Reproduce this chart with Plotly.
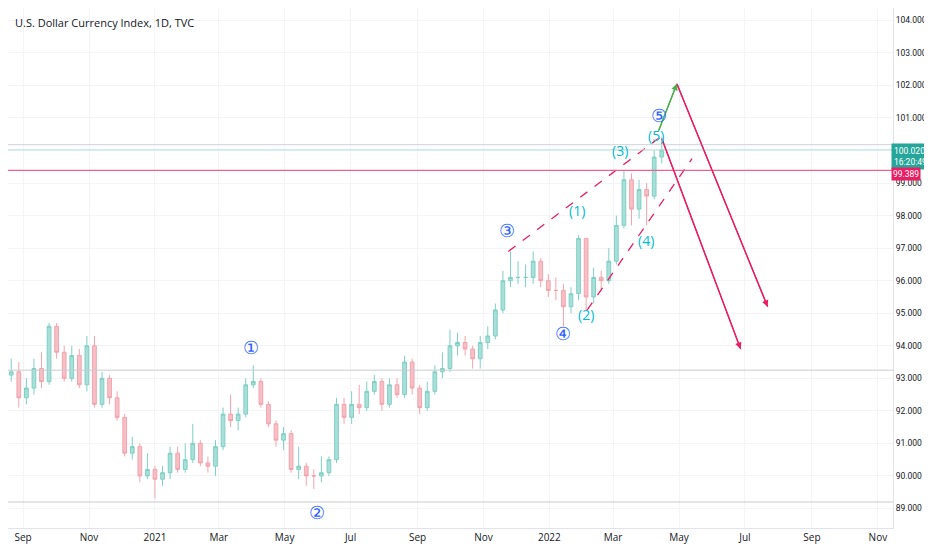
import plotly.graph_objects as go
import pandas as pd

dates = pd.date_range("2020-08-14", periods=88, freq="W-FRI")
closes = [93.1,93.2,92.4,92.7,93.3,92.9,94.6,93.8,93.0,93.7,92.8,94.0,92.2,93.0,92.4,91.8,90.7,90.9,90.0,90.2,
          89.9,90.1,90.7,90.2,90.5,91.0,90.4,90.3,90.9,91.9,91.7,91.9,92.8,92.9,92.2,91.6,91.1,91.3,90.2,90.3,
          90.0,90.0,90.1,90.5,92.2,91.8,92.2,92.1,92.6,92.9,92.2,92.8,92.5,93.5,92.7,92.1,92.6,93.2,93.3,94.0,
          94.1,93.9,93.6,94.1,94.3,95.1,96.0,96.1,96.1,96.1,96.6,96.0,95.7,95.7,95.2,95.6,97.3,95.5,96.1,96.0,
          96.6,97.7,99.1,98.2,98.8,98.6,99.8,100.02]
opens = [93.8,93.1,93.2,92.4,92.7,93.3,92.9,94.6,93.8,93.0,93.7,92.8,94.0,92.2,93.0,92.4,91.8,90.7,90.9,90.0,
         90.2,89.9,90.1,90.7,90.2,90.5,91.0,90.4,90.3,90.9,91.9,91.7,91.9,92.8,92.9,92.2,91.6,91.1,91.3,90.2,
         90.3,90.0,90.0,90.1,90.5,92.2,91.8,92.2,92.1,92.6,92.9,92.2,92.8,92.5,93.5,92.7,92.1,92.6,93.2,93.3,
         94.0,94.1,93.9,93.6,94.1,94.3,95.1,96.0,96.1,96.1,96.1,96.6,96.0,95.7,95.7,95.2,95.6,97.3,95.5,96.1,
         96.0,96.6,97.7,99.1,98.2,98.8,98.6,99.8]
highs = [94.0,93.6,93.5,93.0,93.6,93.8,94.7,94.7,94.0,94.0,93.9,94.3,94.3,93.2,93.1,92.6,91.9,91.2,91.0,90.7,
         90.3,90.3,90.9,90.9,91.0,91.6,91.1,90.6,91.1,92.1,92.5,92.1,93.0,93.4,93.0,92.3,91.7,91.5,91.4,90.9,
         90.4,90.2,90.6,90.6,92.4,92.4,92.6,92.8,92.9,93.1,93.0,93.0,93.0,93.7,93.6,92.8,92.9,93.4,93.8,94.5,
         94.4,94.3,94.0,94.3,94.6,95.3,96.3,96.9,96.6,96.5,96.9,96.7,96.2,96.1,95.9,95.8,97.4,97.3,96.4,96.3,
         97.0,98.0,99.4,99.3,99.1,99.0,100.0,100.4]
lows = [93.0,92.9,92.1,92.2,92.5,92.7,92.8,93.6,92.9,92.9,92.7,92.6,92.1,92.1,92.2,91.7,90.6,90.5,89.8,89.9,
        89.3,89.7,89.9,90.1,90.1,90.4,90.3,90.1,90.0,90.8,91.5,91.4,91.8,92.7,92.1,91.5,90.9,90.8,90.1,89.9,
        89.7,89.6,89.8,90.0,90.4,91.6,91.6,91.9,92.0,92.5,92.0,92.1,92.4,92.4,92.5,91.9,92.0,92.5,93.0,93.2,
        93.7,93.7,93.3,93.3,93.9,94.2,95.0,95.8,95.9,95.8,95.9,95.8,95.5,95.4,94.6,95.0,95.4,95.1,95.3,95.7,
        95.9,96.5,97.6,97.7,97.9,97.7,98.5,99.6]

y_ticks = [89,90,91,92,93,94,95,96,97,98,99,100,101,102,103,104]
x_ticks = ["2020-09-01","2020-11-01","2021-01-01","2021-03-01","2021-05-01","2021-07-01","2021-09-01",
           "2021-11-01","2022-01-01","2022-03-01","2022-05-01","2022-07-01","2022-09-01","2022-11-01"]
x_labels = ["Sep","Nov","2021","Mar","May","Jul","Sep","Nov","2022","Mar","May","Jul","Sep","Nov"]

main_waves = [("①","2021-03-31",93.95),("②","2021-05-31",88.9),("③","2021-11-23",97.55),
              ("④","2022-01-14",94.4),("⑤","2022-04-12",101.1)]
sub_waves = [("(1)","2022-01-27",98.15),("(2)","2022-02-04",94.95),("(3)","2022-03-07",100.0),
             ("(4)","2022-03-31",97.25),("(5)","2022-04-10",100.45)]

pink = "#e91e63"
fig = go.Figure()
fig.add_trace(go.Candlestick(x=dates, open=opens, high=highs, low=lows, close=closes,
    increasing=dict(line=dict(color="#7fcfc5", width=1), fillcolor="#a8dfd8"),
    decreasing=dict(line=dict(color="#f2a3ad", width=1), fillcolor="#f6c0c6"),
    whiskerwidth=0, showlegend=False))

def seg(x0, y0, x1, y1, color, dash="solid", w=1.3):
    fig.add_trace(go.Scatter(x=[x0, x1], y=[y0, y1], mode="lines",
                             line=dict(color=color, width=w, dash=dash), showlegend=False, hoverinfo="skip"))

for lvl, col in [(100.18, "#d1d4dc"), (100.02, "#b2dfdb"), (93.25, "#c8cbd2"), (89.2, "#c8cbd2")]:
    fig.add_hline(y=lvl, line=dict(color=col, width=1))
fig.add_hline(y=99.389, line=dict(color="#f06292", width=1.3))

seg("2021-11-24", 96.9, "2022-04-13", 100.4, pink, "dash")
seg("2022-02-05", 95.1, "2022-05-13", 99.75, pink, "dash")
seg("2022-04-12", 100.6, "2022-04-29", 102.05, "#4caf50")
seg("2022-04-29", 102.05, "2022-07-22", 95.2, pink)
seg("2022-04-15", 100.37, "2022-06-27", 93.9, pink)

fig.add_annotation(x="2022-04-29", y=102.05, ax="2022-04-12", ay=100.6, axref="x", ayref="y",
                   showarrow=True, arrowhead=2, arrowsize=1, arrowwidth=1.3, arrowcolor="#4caf50", text="")
fig.add_annotation(x="2022-07-22", y=95.2, ax="2022-04-29", ay=102.05, axref="x", ayref="y",
                   showarrow=True, arrowhead=2, arrowsize=1, arrowwidth=1.3, arrowcolor=pink, text="")
fig.add_annotation(x="2022-06-27", y=93.9, ax="2022-04-15", ay=100.37, axref="x", ayref="y",
                   showarrow=True, arrowhead=2, arrowsize=1, arrowwidth=1.3, arrowcolor=pink, text="")

for t, d, v in main_waves:
    fig.add_annotation(x=d, y=v, text=t, showarrow=False, font=dict(color="#2962ff", size=18))
for t, d, v in sub_waves:
    fig.add_annotation(x=d, y=v, text=t, showarrow=False, font=dict(color="#00bcd4", size=14, family="Open Sans"))

fig.add_annotation(xref="paper", yref="paper", x=0.006, y=0.99, xanchor="left", showarrow=False,
                   text="U.S. Dollar Currency Index, 1D, TVC", font=dict(size=11, color="#131722", family="Open Sans"))
fig.add_annotation(xref="paper", x=0.998, xanchor="left", y=99.83, yanchor="middle", showarrow=False,
                   text="100.020<br>16:20:49", bgcolor="#26a69a", font=dict(color="white", size=8.5, family="Roboto"),
                   borderpad=2, align="left")
fig.add_annotation(xref="paper", x=0.998, xanchor="left", y=99.28, yanchor="middle", showarrow=False,
                   text="99.389", bgcolor="#e91e63", font=dict(color="white", size=8.5, family="Roboto"), borderpad=1)

fig.update_layout(width=932, height=550, margin=dict(l=0, r=47, t=0, b=30),
                  paper_bgcolor="white", plot_bgcolor="white",
                  font=dict(family="Open Sans", size=10, color="#131722"))
fig.update_xaxes(range=["2020-08-18", "2022-11-15"], rangeslider_visible=False,
                 tickvals=x_ticks, ticktext=x_labels, showgrid=True, gridcolor="#f3f4f7",
                 showline=True, linecolor="#e0e3eb", ticks="", tickfont=dict(size=10, color="#131722"))
fig.update_yaxes(range=[88.4, 104.38], side="right", tickvals=y_ticks,
                 ticktext=[f"{v:.3f}" for v in y_ticks], showgrid=True, gridcolor="#f3f4f7",
                 showline=True, linecolor="#e0e3eb", ticks="", ticklen=0,
                 tickfont=dict(size=8.5, color="#131722", family="Roboto"), zeroline=False)
fig.write_html("out.html")
